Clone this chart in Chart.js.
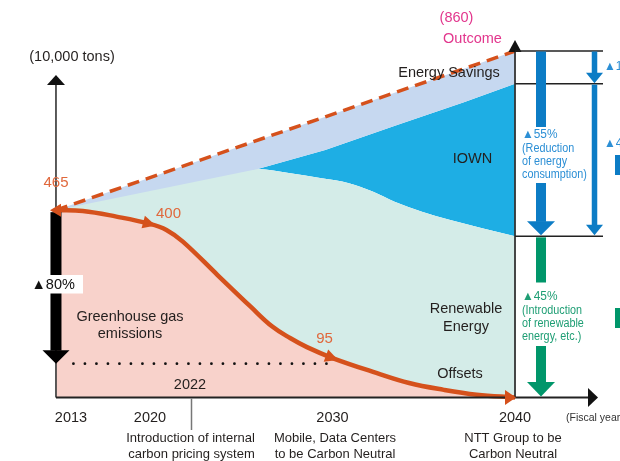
<!DOCTYPE html>
<html><head><meta charset="utf-8">
<script src="https://cdn.jsdelivr.net/npm/chart.js@4.4.1/dist/chart.umd.min.js"></script>
<style>html,body{margin:0;padding:0;background:#fff;}canvas{display:block;}</style>
</head><body>
<canvas id="c" width="620" height="461"></canvas>
<script>
// ---------------- data (10,000 tons, fiscal years) ----------------
const tickYears = ['2013', '2020', '2030', '2040'];
const milestoneYear = 2022;
const bauYears = [2013, 2040];
const bauValues = [465, 860];
const iownTopYears = [2013, 2025.9, 2029.6, 2033.5, 2037.2, 2040];
const iownTopValues = [465, 567, 614, 676, 733, 779];
const renewTopYears = [2013, 2025.9, 2027.6, 2029.4, 2030.9, 2032.2, 2033.4, 2034.9, 2036.4, 2038.2, 2040];
const renewTopValues = [465, 567, 557, 544, 532, 511, 486, 461, 441, 420, 400];
const ghgYears = [2013, 2015.0, 2017.5, 2020, 2020.9, 2021.8, 2023.7, 2025.5, 2026.7, 2027.7, 2028.6, 2030, 2032.4, 2034.2, 2036.1, 2037.9, 2040];
const ghgValues = [465, 463, 449, 431, 416, 387, 304, 226, 176, 147, 125, 98, 61, 36, 19, 7, 0];
const reductionYears = [2014.3, 2030];
const reductionValues = [84, 84];
const ghgMarkYears = [2020, 2030];
const ghgMarkLabels = ['400', '95'];
const startLabel = '465';
const outcomeLabel = '(860)';

// 2013–2020 is drawn compressed on the schematic time axis
const EARLY_COMPRESSION = 0.736;
function axisYear(y) { return y >= 2020 ? y : 2020 - (2020 - y) * EARLY_COMPRESSION; }
const pts = (ys, vs) => ys.map((yr, i) => ({ x: axisYear(yr), y: vs[i] }));

const ORANGE = '#d5511c', PINK = '#f8d2cb', TEAL = '#d4ece8', LBLUE = '#c6d8f0', IOWN = '#1eaee4';
const DBLUE = '#0c7cc5', BTEXT = '#2c8fd5', GREEN = '#00966a', GTEXT = '#1e9e74';
const MAGENTA = '#e2368d', OLABEL = '#e0683c', INK = '#231f1e';
const FONT = "'Liberation Sans', Arial, Helvetica, sans-serif";

function txt(ctx, s, x, y, size, color, align, sx) {
  ctx.save();
  ctx.font = size + 'px ' + FONT;
  ctx.fillStyle = color;
  ctx.textAlign = align || 'center';
  ctx.textBaseline = 'middle';
  ctx.translate(x, y);
  ctx.scale(sx || 1, 1);
  ctx.fillText(s, 0, 0);
  ctx.restore();
}
function tri(ctx, a, b, c, color) {
  ctx.beginPath(); ctx.moveTo(a[0], a[1]); ctx.lineTo(b[0], b[1]); ctx.lineTo(c[0], c[1]); ctx.closePath();
  ctx.fillStyle = color; ctx.fill();
}
function line(ctx, x1, y1, x2, y2, color, w) {
  ctx.beginPath(); ctx.moveTo(x1, y1); ctx.lineTo(x2, y2); ctx.strokeStyle = color; ctx.lineWidth = w; ctx.stroke();
}
function vArrow(ctx, x, yTop, yTip, shaftW, headW, headH, color, gap) {
  ctx.fillStyle = color;
  const yHead = yTip - headH;
  if (gap) {
    ctx.fillRect(x - shaftW / 2, yTop, shaftW, gap[0] - yTop);
    ctx.fillRect(x - shaftW / 2, gap[1], shaftW, yHead - gap[1] + 0.5);
  } else {
    ctx.fillRect(x - shaftW / 2, yTop, shaftW, yHead - yTop + 0.5);
  }
  tri(ctx, [x - headW / 2, yHead], [x + headW / 2, yHead], [x, yTip], color);
}

const deco = {
  id: 'deco',
  afterDatasetsDraw(chart) {
    const { ctx } = chart;
    const xs = chart.scales.x, ys = chart.scales.y;
    const X = yr => xs.getPixelForValue(axisYear(yr));
    const Y = v => ys.getPixelForValue(v);
    const x0 = X(2013), xE = X(2040), y0 = Y(0);
    const yTop = Y(bauValues[bauValues.length - 1]);
    const yIown = Y(iownTopValues[iownTopValues.length - 1]);
    const yRenew = Y(renewTopValues[renewTopValues.length - 1]);
    const yRed = Y(reductionValues[0]);
    ctx.save();

    // axes
    line(ctx, x0, y0, x0, 84, '#4a4a4a', 1.8);
    tri(ctx, [x0 - 9, 85], [x0 + 9, 85], [x0, 75], '#111');
    line(ctx, xE, y0, xE, 51, '#333', 1.8);
    tri(ctx, [xE - 6.5, 52], [xE + 6.5, 52], [xE, 40], '#111');
    line(ctx, x0, y0, 590, y0, '#222', 2);
    tri(ctx, [588, y0 - 9.5], [588, y0 + 9.5], [598, y0], '#111');
    [yTop, yIown, yRenew].forEach(yy => line(ctx, xE, yy, xE + 88, yy, '#222', 1.5));

    // 80% reduction arrow on the left
    vArrow(ctx, x0, Y(ghgValues[0]) + 2, yRed, 11, 27, 13.5, '#000');
    ctx.fillStyle = '#fff';
    ctx.fillRect(30, 275, 53, 18.5);
    txt(ctx, '\u25B280%', 31.5, 284.5, 14.5, '#111', 'left');

    // GHG curve arrowheads
    const meta = chart.getDatasetMeta(0);
    const P = meta.data;
    const p0 = P[0], pN = P[P.length - 1];
    tri(ctx, [p0.x - 6, p0.y], [p0.x + 5, p0.y - 6.5], [p0.x + 5, p0.y + 6.5], ORANGE);
    tri(ctx, [pN.x + 1, pN.y], [pN.x - 10, pN.y - 7.5], [pN.x - 10, pN.y + 7.5], ORANGE);
    ghgMarkYears.forEach((yr, k) => {
      const i = ghgYears.indexOf(yr);
      const p = P[i];
      let dx, dy;
      if (p.cp2x !== undefined && p.cp1x !== undefined && (p.cp2x !== p.cp1x || p.cp2y !== p.cp1y)) {
        dx = p.cp2x - p.cp1x; dy = p.cp2y - p.cp1y;
      } else { dx = P[i + 1].x - P[i - 1].x; dy = P[i + 1].y - P[i - 1].y; }
      const L = Math.hypot(dx, dy); dx /= L; dy /= L;
      const nx = -dy, ny = dx;
      const bx = p.x - 7 * dx, by = p.y - 7 * dy;
      tri(ctx, [p.x + 6 * dx, p.y + 6 * dy], [bx + 6.5 * nx, by + 6.5 * ny], [bx - 6.5 * nx, by - 6.5 * ny], ORANGE);
      if (k === 0) txt(ctx, ghgMarkLabels[k], p.x + 18.5, p.y - 10, 15, OLABEL);
      else txt(ctx, ghgMarkLabels[k], p.x - 8, p.y - 19.5, 15, OLABEL);
    });
    txt(ctx, startLabel, p0.x, p0.y - 27.5, 15, OLABEL);
    txt(ctx, outcomeLabel, xE - 58.5, yTop - 33.5, 14.5, MAGENTA);
    txt(ctx, 'Outcome', xE - 42.5, yTop - 12.5, 14.5, MAGENTA);

    // axis texts
    txt(ctx, '(10,000 tons)', 72, 57, 14.5, INK);
    tickYears.forEach((t, i) => {
      const px = X(+t);
      txt(ctx, t, i === 0 ? px + 15 : px, 418, 14.5, INK);
    });
    txt(ctx, '(Fiscal year)', 566, 418, 10.5, '#333', 'left');
    const xm = X(milestoneYear) + 5;
    line(ctx, xm, y0 + 1, xm, 430, '#777', 1.5);
    txt(ctx, String(milestoneYear), xm - 1.5, 385, 14.5, INK);
    txt(ctx, 'Introduction of internal', xm - 1, 438, 13, INK);
    txt(ctx, 'carbon pricing system', xm, 454, 13, INK);
    txt(ctx, 'Mobile, Data Centers', X(2030) + 2.5, 438, 13, INK);
    txt(ctx, 'to be Carbon Neutral', X(2030) + 2.5, 454, 13, INK);
    txt(ctx, 'NTT Group to be', xE - 2, 438, 13, INK);
    txt(ctx, 'Carbon Neutral', xE - 2, 454, 13, INK);

    // region labels
    txt(ctx, 'Greenhouse gas', 130, 317, 14.5, INK);
    txt(ctx, 'emissions', 130, 333.5, 14.5, INK);
    txt(ctx, 'Renewable', 466, 309, 14.5, INK);
    txt(ctx, 'Energy', 466, 327, 14.5, INK);
    txt(ctx, 'Offsets', 460, 374, 14.5, INK);
    txt(ctx, 'IOWN', 472.5, 159, 14.5, INK);
    txt(ctx, 'Energy Savings', 449, 73, 14.5, INK);

    // right-hand breakdown arrows
    const xa = xE + 26, xb = xE + 79.5, xt = xE + 7;
    vArrow(ctx, xa, yTop + 0.5, yRenew - 1, 10, 28, 14, DBLUE, [127, 183]);
    vArrow(ctx, xa, yRenew + 1, y0 - 1, 10, 28, 14.5, GREEN, [282.5, 346]);
    vArrow(ctx, xb, yTop + 0.5, yIown - 0.5, 5.5, 17, 10.5, DBLUE);
    vArrow(ctx, xb, yIown + 1, yRenew - 1, 5.5, 17, 10.5, DBLUE);
    txt(ctx, '\u25B255%', xt, 135, 12.5, BTEXT, 'left', 0.95);
    txt(ctx, '(Reduction', xt, 148.5, 12, BTEXT, 'left', 0.9);
    txt(ctx, 'of energy', xt, 161.5, 12, BTEXT, 'left', 0.9);
    txt(ctx, 'consumption)', xt, 175, 12, BTEXT, 'left', 0.9);
    txt(ctx, '\u25B245%', xt, 297, 12.5, GTEXT, 'left', 0.95);
    txt(ctx, '(Introduction', xt, 310.5, 12, GTEXT, 'left', 0.9);
    txt(ctx, 'of renewable', xt, 323.5, 12, GTEXT, 'left', 0.9);
    txt(ctx, 'energy, etc.)', xt, 336.5, 12, GTEXT, 'left', 0.9);
    txt(ctx, '\u25B210%', xE + 89, 67, 12.5, BTEXT, 'left', 0.95);
    txt(ctx, '\u25B245%', xE + 89, 144, 12.5, BTEXT, 'left', 0.95);
    ctx.fillStyle = DBLUE; ctx.fillRect(615, 155, 10, 20);
    ctx.fillStyle = GREEN; ctx.fillRect(615, 308, 10, 20);
    ctx.restore();
  }
};

new Chart(document.getElementById('c'), {
  type: 'line',
  data: {
    datasets: [
      { label: 'Greenhouse gas emissions', data: pts(ghgYears, ghgValues), borderColor: ORANGE, borderWidth: 4.5,
        backgroundColor: PINK, fill: 'origin', tension: 0.4, order: 1, clip: false },
      { label: '80% reduction level', data: pts(reductionYears, reductionValues), borderColor: '#111', borderWidth: 2.8,
        borderDash: [0, 11.5], borderCapStyle: 'round', fill: false, tension: 0, order: 0, clip: false },
      { label: 'Outcome (no measures)', data: pts(bauYears, bauValues), borderColor: ORANGE, borderWidth: 3.5,
        borderDash: [12, 7], fill: { target: 3, above: LBLUE, below: LBLUE }, tension: 0, order: 2, clip: false },
      { label: 'IOWN', data: pts(iownTopYears, iownTopValues), borderColor: 'rgba(0,0,0,0)', borderWidth: 0,
        fill: { target: 4, above: IOWN, below: 'rgba(0,0,0,0)' }, tension: 0, order: 3, clip: false },
      { label: 'Renewable Energy', data: pts(renewTopYears, renewTopValues), borderColor: 'rgba(0,0,0,0)', borderWidth: 0,
        backgroundColor: TEAL, fill: 'origin', cubicInterpolationMode: 'monotone', order: 4, clip: false }
    ]
  },
  options: {
    responsive: false, animation: false, devicePixelRatio: 1,
    layout: { padding: 0 },
    elements: { point: { radius: 0, hoverRadius: 0 } },
    plugins: { legend: { display: false }, tooltip: { enabled: false } },
    scales: {
      x: { type: 'linear', display: false, min: 2011.781, max: 2045.753 },
      y: { type: 'linear', display: false, min: -157.6, max: 986.6 }
    }
  },
  plugins: [deco]
});
</script>
</body></html>
